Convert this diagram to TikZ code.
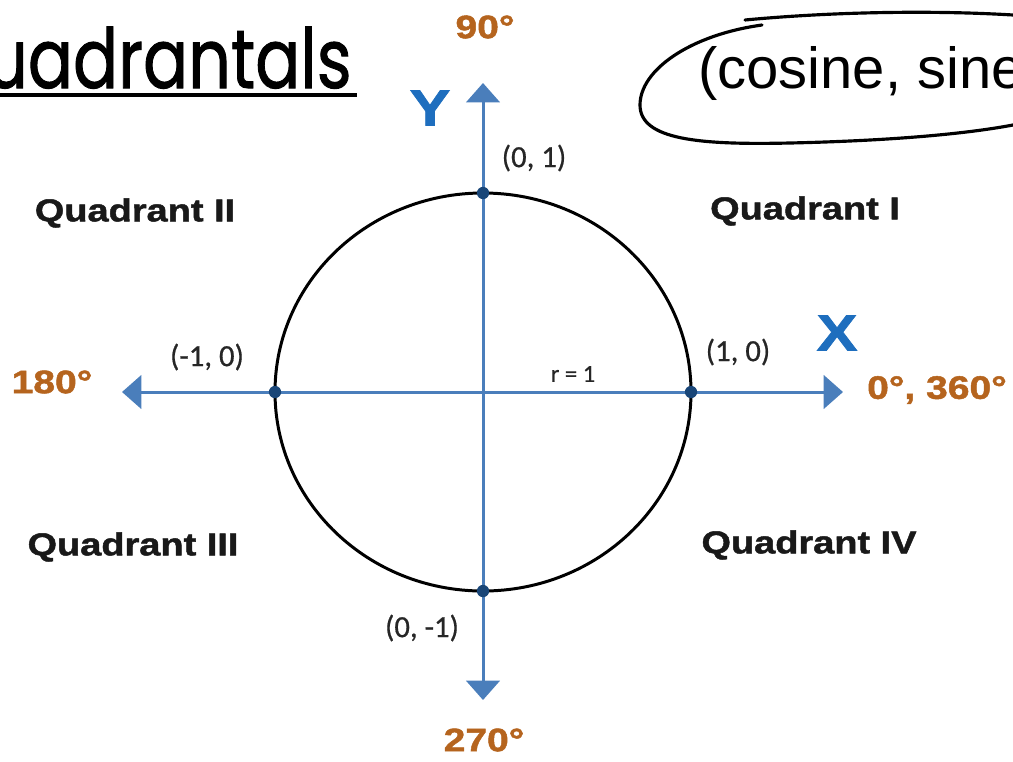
\documentclass[tikz,border=0pt]{standalone}
\usepackage{fontspec}
\setmainfont{Liberation Sans}
\newfontfamily\blkfont[FakeStretch=1.2, FakeBold=1.5]{Liberation Sans}
\newfontfamily\calfont[FakeBold=0.6]{Carlito}
\newfontfamily\handfont[FakeBold=1.2]{Poppins}
\usetikzlibrary{arrows.meta, positioning}
\definecolor{axisblue}{RGB}{74,126,187}
\definecolor{dotblue}{RGB}{25,70,120}
\definecolor{labelblue}{RGB}{30,110,190}
\definecolor{degbrown}{RGB}{181,100,30}
\begin{document}
\begin{tikzpicture}[x=0.02cm, y=-0.02cm,
every node/.style={inner sep=0pt},
axis/.style={{Triangle[length=11pt, width=19pt]}-{Triangle[length=11pt, width=19pt]}, line width=1.7pt, axisblue},
dot/.style={circle, fill=dotblue, minimum size=7pt},
quad/.style={font=\blkfont\bfseries\fontsize{18}{20}\selectfont, black!90},
deg/.style={font=\blkfont\bfseries\fontsize{18.5}{20}\selectfont, degbrown},
coord/.style={font=\calfont\fontsize{17.5}{19}\selectfont, black!85},
axlabel/.style={font=\blkfont\bfseries\fontsize{29}{30}\selectfont, labelblue}
]
\useasboundingbox (0,0) rectangle (1013,761);
\clip (0,0) rectangle (1013,761);
% Axes and circle
\coordinate (O) at (483,392);
\coordinate (xl) at (122,392);
\coordinate (xr) at (843,392);
\coordinate (yt) at (483,83);
\coordinate (yb) at (483,700);
\draw[line width=1.7pt] (O) ellipse [x radius=208, y radius=199];
\draw[axis] (xl) -- (xr);
\draw[axis] (yb) -- (yt);
\node[dot] (p0) at (691,392) {};
\node[dot] (p90) at (483,193) {};
\node[dot] (p180) at (275,392) {};
\node[dot] (p270) at (483,591) {};
% Labels
\node[deg] (d90) at (485,27) {90°};
\node[deg] (d180) at (52,382) {180°};
\node[deg] (d270) at (484,740) {270°};
\node[deg] (d0) at (937,390) {0°, 360°};
\node[axlabel] (ylab) at (430,108) {Y};
\node[axlabel] (xlab) at (837,333) {X};
\node[coord] (c90) at (534,158) {(0, 1)};
\node[coord] (c180) at (207,357) {(-1, 0)};
\node[coord] (c0) at (738,352) {(1, 0)};
\node[coord] (c270) at (422,628) {(0, -1)};
\node[font=\calfont\fontsize{14}{15}\selectfont, black!85] (rad) at (573,374) {r = 1};
\node[quad] (q1) at (805,211) {Quadrant I};
\node[quad] (q2) at (135,213) {Quadrant II};
\node[quad] (q3) at (133,547) {Quadrant III};
\node[quad] (q4) at (809,545) {Quadrant IV};
% Title and note
\node[anchor=base east, font=\handfont\fontsize{38}{40}\selectfont] (title) at (352,88) {\scalebox{1}[1.24]{Quadrantals}};
\draw[line width=2.3pt] ([yshift=-4pt]title.base west) -- ([yshift=-4pt, xshift=3pt]title.base east);
\node[anchor=base west, font=\fontsize{33}{36}\selectfont] (note) at (698,88) {(cosine, sine)};
\draw[line width=1.8pt, line cap=round] (745,20) .. controls (830,12) and (930,10) .. (1013,15);
\draw[line width=1.8pt, line cap=round] (762,25) .. controls (690,35) and (640,70) .. (640,105)
  .. controls (640,140) and (700,145) .. (790,143) .. controls (880,141) and (960,135) .. (1013,125);
\end{tikzpicture}
\end{document}
